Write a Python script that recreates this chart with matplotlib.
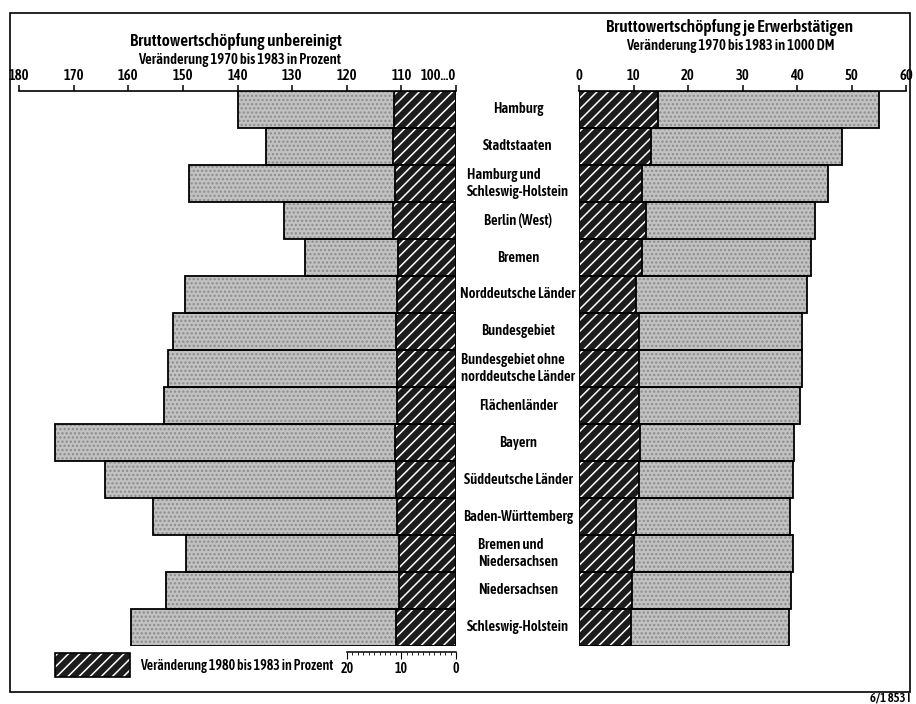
import matplotlib
matplotlib.use("Agg")
import matplotlib.pyplot as plt
from matplotlib.patches import Rectangle
from matplotlib.ticker import FixedLocator
import numpy as np

# schmale Schrift wie im Original
plt.rcParams['font.family'] = ['Asap Condensed', 'Archivo Narrow', 'DejaVu Sans']
plt.rcParams['font.weight'] = 600
plt.rcParams['hatch.linewidth'] = 1.1

# Laender / Gebiete (von oben nach unten)
regionen = ["Hamburg", "Stadtstaaten", "Hamburg und\nSchleswig-Holstein", "Berlin (West)",
            "Bremen", "Norddeutsche Länder", "Bundesgebiet",
            "Bundesgebiet ohne\nnorddeutsche Länder", "Flächenländer", "Bayern",
            "Süddeutsche Länder", "Baden-Württemberg", "Bremen und\nNiedersachsen",
            "Niedersachsen", "Schleswig-Holstein"]

# Bruttowertschoepfung unbereinigt, 1970=100 -> 1983 (Prozent)
bws_1970_83 = [140.0, 134.8, 148.9, 131.5, 127.7, 149.6, 151.8, 152.7, 153.5,
               173.4, 164.3, 155.5, 149.5, 153.1, 159.5]
# Veraenderung 1980 bis 1983 in Prozent
bws_1980_83 = [11.4, 11.5, 11.2, 11.5, 10.6, 10.8, 11.0, 10.8, 10.8,
               11.2, 11.0, 10.8, 10.4, 10.4, 11.0]

# Bruttowertschoepfung je Erwerbstaetigen, Veraenderung in 1000 DM
erw_1970_83 = [55.0, 48.2, 45.7, 43.3, 42.6, 41.8, 41.0, 40.9, 40.6,
               39.5, 39.3, 38.7, 39.3, 38.9, 38.5]
erw_1980_83 = [14.5, 13.2, 11.5, 12.3, 11.5, 10.5, 11.0, 11.0, 11.0,
               11.2, 11.0, 10.5, 10.1, 9.7, 9.5]

links_ticks = [0, 10, 20, 30, 40, 50, 60, 70, 80]
links_ticklabels = ["100...0", "110", "120", "130", "140", "150", "160", "170", "180"]
rechts_ticks = [0, 10, 20, 30, 40, 50, 60]

W, H = 916, 704
GREY = "#c2c2c2"
DARK = "#1c1c1c"

fig = plt.figure(figsize=(W / 100, H / 100), dpi=100)
fig.patch.set_facecolor("white")

y_top, y_bot = 91, 646
ax1 = fig.add_axes([19 / W, (H - y_bot) / H, (456 - 19) / W, (y_bot - y_top) / H])
ax2 = fig.add_axes([579 / W, (H - y_bot) / H, 327 / W, (y_bot - y_top) / H])

pos = np.arange(len(regionen))
grau_links = np.array(bws_1970_83) - 100


def balken(ax, werte, farbe, muster, musterfarbe):
    ax.barh(pos, werte, height=1.0, color=farbe, edgecolor=musterfarbe,
            hatch=muster, linewidth=0, zorder=3)
    ax.barh(pos, werte, height=1.0, fill=False, edgecolor="black",
            linewidth=1.3, zorder=4)


balken(ax1, grau_links, GREY, "....", "#8c8c8c")
balken(ax1, bws_1980_83, DARK, "///", "white")
balken(ax2, erw_1970_83, GREY, "....", "#8c8c8c")
balken(ax2, erw_1980_83, DARK, "///", "white")

for ax in (ax1, ax2):
    ax.set_ylim(len(regionen) - 0.5, -0.5)
    ax.set_yticks([])
    ax.set_facecolor("none")
    for s in ("left", "right", "bottom"):
        ax.spines[s].set_visible(False)
    ax.spines["top"].set_linewidth(1.2)
    ax.xaxis.set_ticks_position("top")
    ax.tick_params(axis="x", direction="out", length=4, width=1.1, pad=2,
                   labelsize=10.5)

ax1.set_xlim(80, 0)
ax1.set_xticks(links_ticks)
ax1.set_xticklabels(links_ticklabels)
ax1.get_xticklabels()[0].set_horizontalalignment("right")
ax2.set_xlim(0, 60)
ax2.set_xticks(rechts_ticks)

# kleine Skala fuer 1980-1983
sek = ax1.secondary_xaxis(-6 / (y_bot - y_top))
sek.spines["bottom"].set_bounds(0, 20)
sek.spines["bottom"].set_linewidth(1.1)
sek.set_xticks([0, 10, 20])
sek.xaxis.set_minor_locator(FixedLocator(list(range(0, 21))))
sek.tick_params(axis="x", which="major", direction="out", length=5, labelsize=10, pad=2)
sek.tick_params(axis="x", which="minor", direction="out", length=2.5)
for s in ("top", "left", "right"):
    sek.spines[s].set_visible(False)

# Beschriftungen in der Mitte
for i, name in enumerate(regionen):
    y = (H - (y_top + (i + 0.5) * (y_bot - y_top) / len(regionen))) / H
    fig.text(518 / W, y, name, ha="center", va="center", multialignment="left",
             fontsize=10.5, linespacing=1.2)

# Titel
fig.text(236 / W, (H - 42) / H, "Bruttowertschöpfung unbereinigt",
         ha="center", va="center", fontsize=12.5)
fig.text(240 / W, (H - 60) / H, "Veränderung 1970 bis 1983 in Prozent",
         ha="center", va="center", fontsize=10.5)
fig.text(730 / W, (H - 28) / H, "Bruttowertschöpfung je Erwerbstätigen",
         ha="center", va="center", fontsize=12.5)
fig.text(730 / W, (H - 46) / H, "Veränderung 1970 bis 1983 in 1000 DM",
         ha="center", va="center", fontsize=10.5)

# Legende
fig.add_artist(Rectangle((55 / W, (H - 677) / H), 75 / W, 24 / H, transform=fig.transFigure,
                         facecolor=DARK, edgecolor="white", hatch="///", linewidth=0))
fig.add_artist(Rectangle((55 / W, (H - 677) / H), 75 / W, 24 / H, transform=fig.transFigure,
                         fill=False, edgecolor="black", linewidth=1.2))
fig.text(140 / W, (H - 666) / H, "Veränderung 1980 bis 1983 in Prozent",
         ha="left", va="center", fontsize=10)

# Rahmen
fig.add_artist(Rectangle((10 / W, (H - 692) / H), 900 / W, 679 / H, transform=fig.transFigure,
                         fill=False, edgecolor="black", linewidth=1.2))
fig.text(910 / W, (H - 698) / H, "6/1 853 I", ha="right", va="center", fontsize=9)

fig.savefig("out.png", dpi=100, facecolor="white")
